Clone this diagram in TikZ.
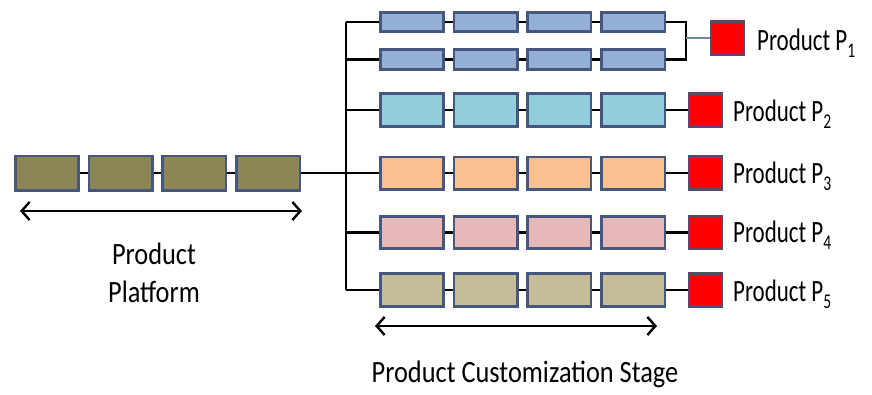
\documentclass[tikz,border=0pt]{standalone}
\usepackage{fontspec}
\setmainfont{Carlito}
\newfontfamily\labfont[FakeStretch=0.85]{Carlito}
\newfontfamily\prodfont[FakeStretch=0.74]{Carlito}
\usetikzlibrary{arrows.meta}

\definecolor{rowA}{HTML}{93AFD3}
\definecolor{rowB}{HTML}{92CDDC}
\definecolor{rowC}{HTML}{FAC090}
\definecolor{rowD}{HTML}{E6B9B8}
\definecolor{rowE}{HTML}{C4BD97}
\definecolor{plat}{HTML}{8B8653}
\definecolor{boxedge}{HTML}{46577F}
\definecolor{sqedge}{HTML}{5A4A6A}
\definecolor{merge}{HTML}{6A88B0}

\newcommand\psub[1]{\raisebox{-7pt}{\fontsize{21}{21}\selectfont #1}}

\begin{document}
\begin{tikzpicture}[x=1pt,y=-1pt,
  blk/.style={draw=boxedge, line width=2.6pt, inner sep=0pt, minimum width=63.4pt},
  link/.style={draw=black, line width=2.2pt},
  wire/.style={draw=black, line width=2.8pt},
  mergewire/.style={draw=merge, line width=2pt},
  prod/.style={draw=sqedge, fill=red, line width=2.6pt, inner sep=0pt, minimum size=33pt},
  plab/.style={font=\prodfont\fontsize{31}{36}\selectfont, inner sep=0pt},
  glab/.style={font=\labfont\fontsize{31}{38}\selectfont, inner sep=0pt, align=center},
  span/.style={draw=black, line width=2.4pt,
    arrows={Straight Barb[length=8pt,width=18pt,line width=2.4pt]-Straight Barb[length=8pt,width=18pt,line width=2.4pt]}}
]
\useasboundingbox (0,0) rectangle (872,394);

% product platform: four shared modules
\foreach \i in {1,...,4}
  \node[blk, fill=plat, minimum height=34.4pt] (pl\i) at ({47+(\i-1)*73.7}, 173) {};
\foreach \i/\j in {1/2,2/3,3/4}
  \draw[link] (pl\i) -- (pl\j);

% customization rows: name / centre y / height / fill
\foreach \r/\y/\h/\c in {a/22/19.4/rowA, b/59.5/20.4/rowA, c/110/33.4/rowB,
                         d/173/32.4/rowC, e/232.5/32.4/rowD, f/290/33.4/rowE} {
  \foreach \i in {1,...,4}
    \node[blk, fill=\c, minimum height=\h pt] (\r\i) at ({412+(\i-1)*73.7}, \y) {};
  \foreach \i/\j in {1/2,2/3,3/4}
    \draw[link] (\r\i) -- (\r\j);
}

% trunk feeding every row from the platform
\coordinate (trunk) at (346,0);
\draw[wire] (trunk |- a1.west) -- (trunk |- f1.west);
\foreach \r in {a,b,c,d,e,f}
  \draw[wire] (trunk |- \r1.west) -- (\r1.west);
\draw[wire] (pl4.east) -- (trunk |- pl4.east);

% finished products
\node[prod] (sq1) at (727.5,38) {};
\node[prod] (sq2) at (705.5,110) {};
\node[prod] (sq3) at (705.5,173) {};
\node[prod] (sq4) at (705.5,232.5) {};
\node[prod] (sq5) at (705.5,290) {};

% two parallel lines merging into P1
\coordinate (br) at (686,0);
\draw[wire] (a4.east) -- (br |- a4.east) -- (br |- b4.east) -- (b4.east);
\draw[mergewire] (br |- sq1.west) -- (sq1.west);

\draw[wire] (c4.east) -- (sq2.west);
\draw[wire] (d4.east) -- (sq3.west);
\draw[wire] (e4.east) -- (sq4.west);
\draw[wire] (f4.east) -- (sq5.west);

% product labels
\node[plab, anchor=base west] (l1) at (757,50) {Product P\psub{1}};
\node[plab, anchor=base west] (l2) at (733,121) {Product P\psub{2}};
\node[plab, anchor=base west] (l3) at (733,183) {Product P\psub{3}};
\node[plab, anchor=base west] (l4) at (733,242) {Product P\psub{4}};
\node[plab, anchor=base west] (l5) at (733,301) {Product P\psub{5}};

% span arrows and stage labels
\coordinate (ps) at (20,211);
\coordinate (pe) at (302,211);
\draw[span] (ps) -- (pe);
\node[glab] (plab) at (154,273) {Product\\Platform};

\coordinate (cs) at (375,326);
\coordinate (ce) at (657,326);
\draw[span] (cs) -- (ce);
\node[glab, anchor=base] (clab) at (525,382) {Product Customization Stage};
\end{tikzpicture}
\end{document}
